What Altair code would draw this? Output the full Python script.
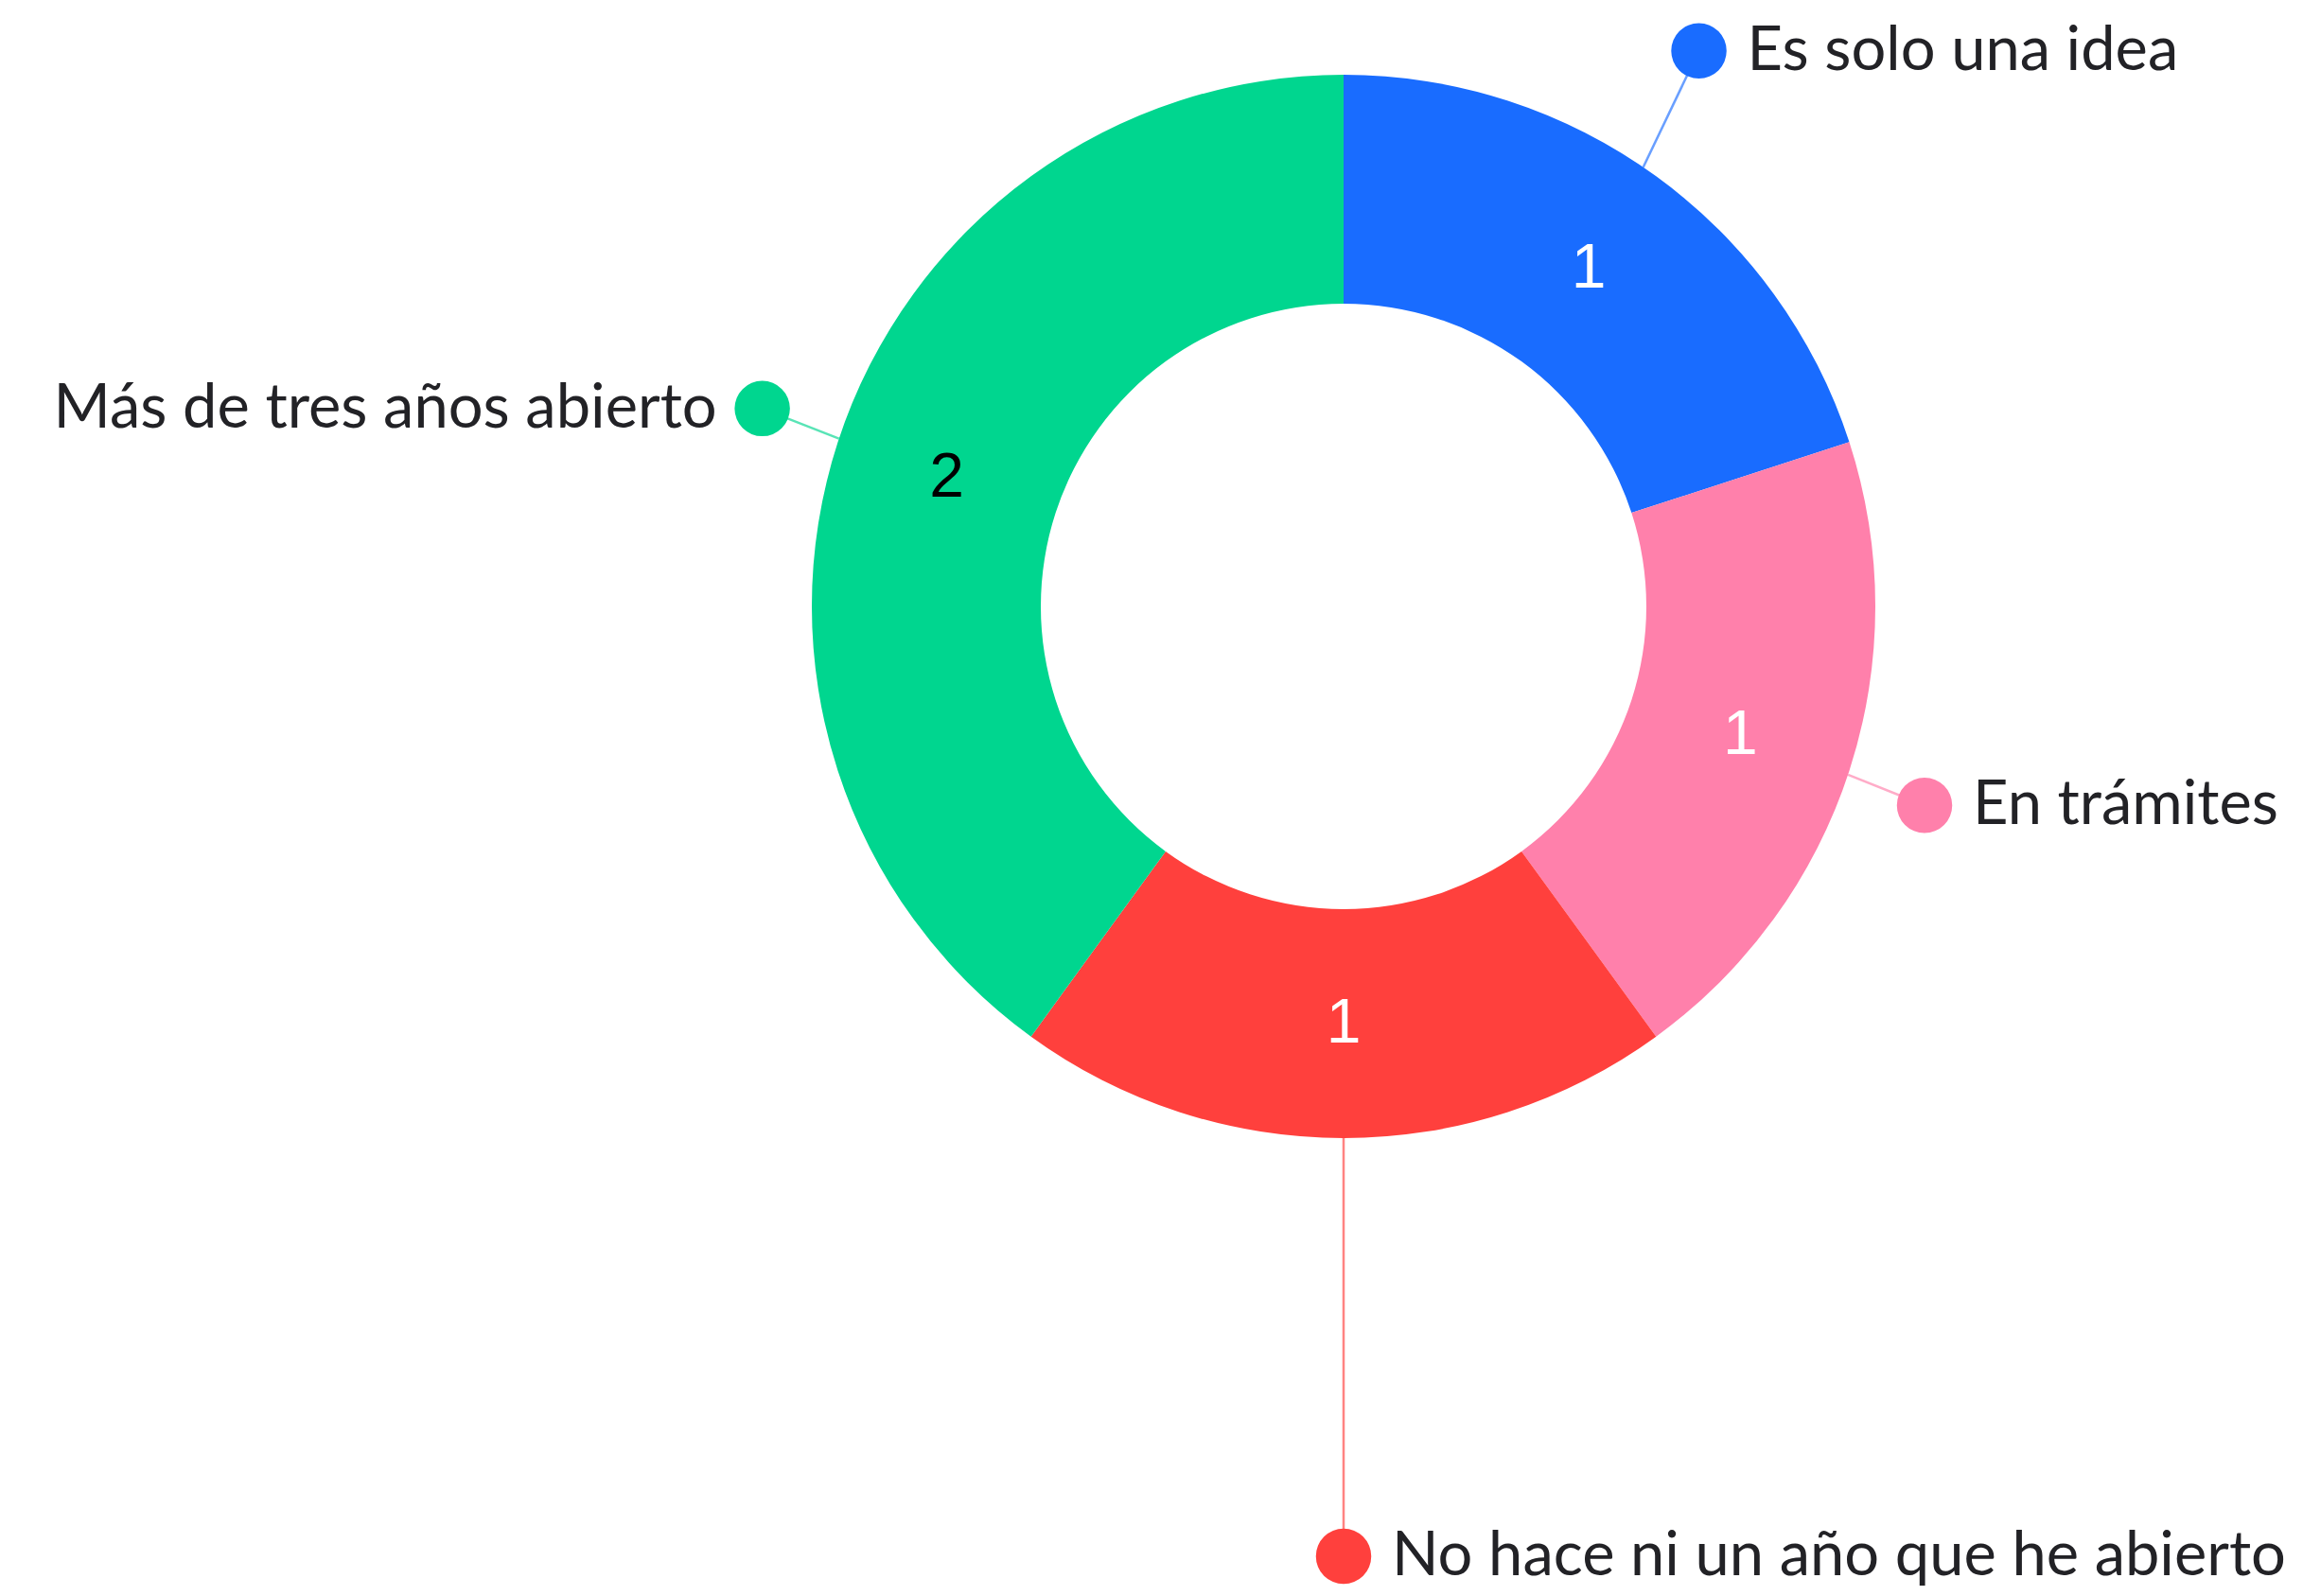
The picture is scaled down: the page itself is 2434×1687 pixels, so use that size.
import altair as alt
import pandas as pd

# ---- data ----
categories = [
    "Es solo una idea",
    "En trámites",
    "No hace ni un año que he abierto",
    "Más de tres años abierto",
]
values = [1, 1, 1, 2]
colors = ["#196CFF", "#FF80AB", "#FF403D", "#00D68F"]

# ---- layout / style constants ----
W, H = 2418, 1671
CX, CY = 1412, 633          # donut centre (px, chart coords)
R_OUT, R_IN = 562, 320
R_NUM = 441                 # radius of the value labels
LABEL_DIST = [697, 649, 1004, 649]     # distance of label dots from centre
LABEL_SHIFT = [-3.4, 0.9, 0.0, 0.8]    # angular nudge of label dots (deg)
NUM_COLORS = ["white", "white", "white", "black"]
TEXT_COLOR = "#222226"
LABEL_SIZE = 65

df = pd.DataFrame({
    "category": categories,
    "value": values,
    "idx": list(range(len(categories))),
})

color = alt.Color(
    "category:N",
    scale=alt.Scale(domain=categories, range=colors),
    legend=None,
)

base = (
    alt.Chart(df)
    .transform_joinaggregate(total="sum(value)")
    .transform_window(
        cum="sum(value)",
        sort=[alt.SortField("idx", order="ascending")],
        frame=[None, 0],
    )
    .transform_calculate(
        mid="2*PI*(datum.cum - datum.value/2)/datum.total",
    )
    .transform_calculate(
        a=f"datum.mid + {LABEL_SHIFT}[datum.idx]*PI/180",
    )
    .transform_calculate(
        ldist=f"{LABEL_DIST}[datum.idx]",
        numcolor=f"{NUM_COLORS}[datum.idx]",
    )
    .transform_calculate(
        px=f"{CX} + datum.ldist*sin(datum.a)",
        py=f"{CY} - datum.ldist*cos(datum.a)",
        sx=f"{CX} + {R_OUT}*sin((datum.a + datum.mid)/2)",
        sy=f"{CY} - {R_OUT}*cos((datum.a + datum.mid)/2)",
        tx=f"{CX} + {R_NUM}*sin(datum.mid)",
        ty=f"{CY} - {R_NUM}*cos(datum.mid)",
    )
)

arc = alt.Chart(df).mark_arc(innerRadius=R_IN, outerRadius=R_OUT).encode(
    theta=alt.Theta("value:Q", stack=True),
    order=alt.Order("idx:Q"),
    color=color,
    x=alt.value(CX),
    y=alt.value(CY),
)

lines = base.mark_rule(strokeWidth=2.5, opacity=0.65).encode(
    x=alt.X("sx:Q", scale=None, axis=None),
    y=alt.Y("sy:Q", scale=None, axis=None),
    x2="px:Q",
    y2="py:Q",
    color=color,
)

dots = base.mark_circle(size=3421, opacity=1).encode(
    x=alt.X("px:Q", scale=None, axis=None),
    y=alt.Y("py:Q", scale=None, axis=None),
    color=color,
)

labels_right = base.transform_filter("sin(datum.a) >= -0.1").mark_text(
    align="left", baseline="middle", dx=51, font="Lato", fontSize=LABEL_SIZE,
    color=TEXT_COLOR,
).encode(
    x=alt.X("px:Q", scale=None, axis=None),
    y=alt.Y("py:Q", scale=None, axis=None),
    text="category:N",
)

labels_left = base.transform_filter("sin(datum.a) < -0.1").mark_text(
    align="right", baseline="middle", dx=-48, font="Lato", fontSize=LABEL_SIZE,
    color=TEXT_COLOR,
).encode(
    x=alt.X("px:Q", scale=None, axis=None),
    y=alt.Y("py:Q", scale=None, axis=None),
    text="category:N",
)

numbers = base.mark_text(
    align="center", baseline="middle", font="Liberation Sans", fontSize=66,
).encode(
    x=alt.X("tx:Q", scale=None, axis=None),
    y=alt.Y("ty:Q", scale=None, axis=None),
    text="value:Q",
    fill=alt.Fill("numcolor:N", scale=None),
)

chart = (
    alt.layer(lines, arc, dots, labels_right, labels_left, numbers)
    .properties(width=W, height=H, padding=0, autosize=alt.AutoSizeParams(type="none"),
                background="white")
    .configure_view(stroke=None)
)

chart.save("out.html", embed_options={"renderer": "svg", "actions": False})
